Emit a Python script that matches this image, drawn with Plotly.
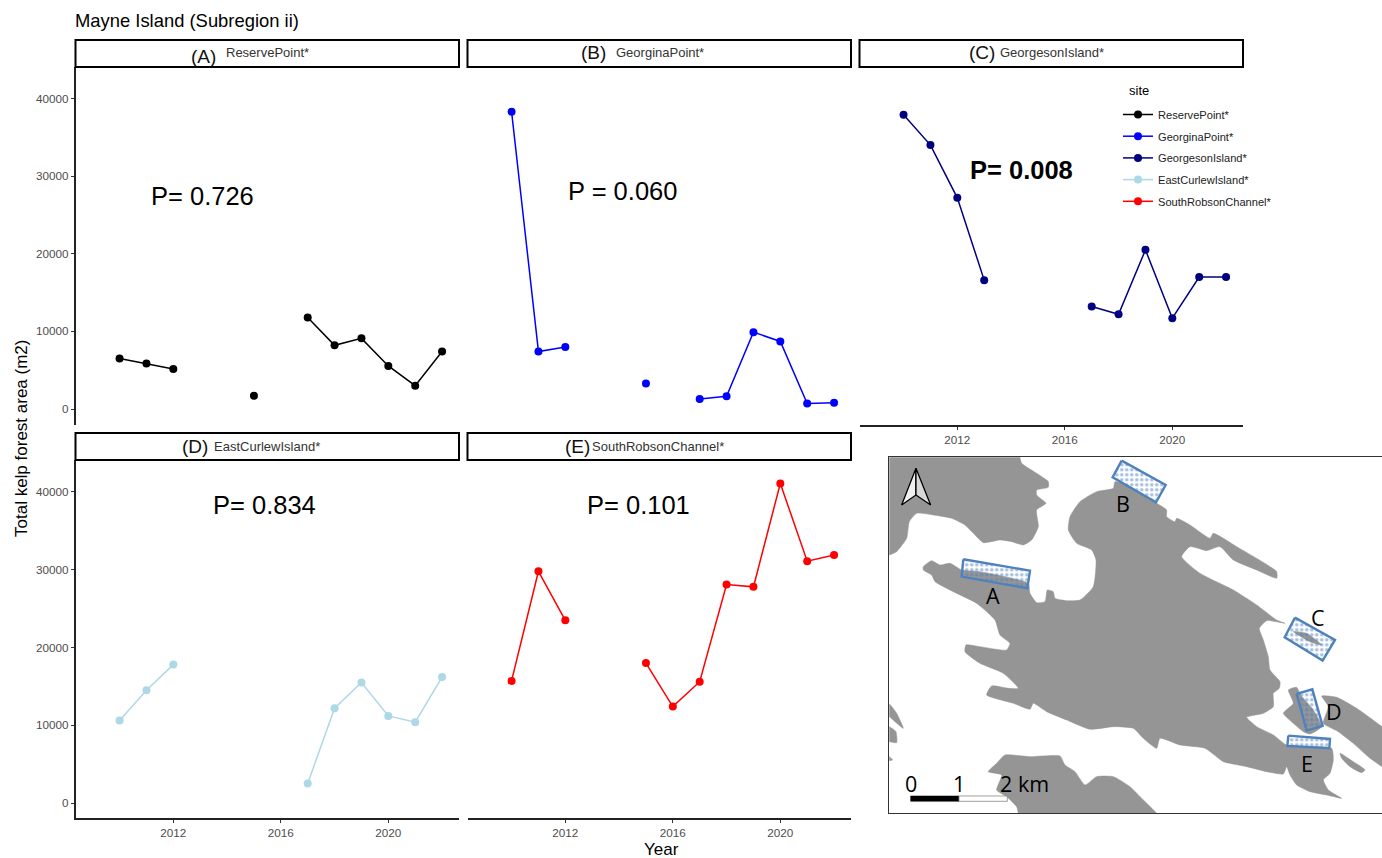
import plotly.graph_objects as go

W, H = 1382, 858
TITLE = "Mayne Island (Subregion ii)"
SITES = ["ReservePoint*", "GeorginaPoint*", "GeorgesonIsland*", "EastCurlewIsland*", "SouthRobsonChannel*"]
LETTERS = ["(A)", "(B)", "(C)", "(D)", "(E)"]
COLORS = ["#000000", "#0000FF", "#000080", "#ADD8E6", "#FF0000"]
YEARS = [2010, 2011, 2012, 2013, 2014, 2015, 2016, 2017, 2018, 2019, 2020, 2021, 2022]
RESERVE = [6500, 5850, 5150, None, None, 1700, None, 11800, 8200, 9100, 5550, 3000, 7400]
GEORGINA = [38300, 7400, 8000, None, None, 3300, None, 1300, 1650, 9900, 8700, 700, 800]
GEORGESON = [37900, 34000, 27200, 16600, None, None, None, 13200, 12200, 20500, 11700, 17000, 17000]
CURLEW = [10600, 14500, 17800, None, None, None, None, 2500, 12200, 15500, 11200, 10400, 16200]
ROBSON = [15700, 29800, 23500, None, None, 18000, 12400, 15600, 28100, 27800, 41100, 31100, 31900]
SERIES = [RESERVE, GEORGINA, GEORGESON, CURLEW, ROBSON]
PVALUES = ["P= 0.726", "P = 0.060", "<b>P= 0.008</b>", "P= 0.834", "P= 0.101"]
XTICKS = [2012, 2016, 2020]
YTICKS = [0, 10000, 20000, 30000, 40000]

# Map outlines
LAND_NW = [(-60,-60),(420,-60),(420,22),(425,40),(470,70),(505,95),(505,112),(470,120),(470,135),(498,160),(470,180),(475,230),(455,270),(430,285),(395,275),(360,270),(310,278),(280,250),(255,225),(215,205),(160,195),(110,190),(88,215),(80,265),(50,305),(28,315),(-60,330)]
LAND_MAIN = [(130,350),(155,332),(180,345),(210,340),(245,360),(300,365),(445,400),(450,430),(470,458),(495,455),(502,420),(520,425),(525,445),(560,452),(600,450),(640,410),(648,330),(635,300),(590,280),(565,240),(570,200),(600,155),(650,125),(700,115),(705,95),(760,115),(830,160),(860,180),(860,200),(885,215),(890,205),(930,225),(990,265),(1000,250),(1070,290),(1190,365),(1190,385),(1130,360),(1060,330),(1020,290),(980,302),(930,290),(905,320),(960,370),(1060,420),(1130,465),(1190,510),(1215,520),(1160,512),(1138,535),(1150,570),(1165,620),(1170,660),(1200,695),(1198,715),(1180,730),(1180,770),(1150,790),(1100,802),(1130,830),(1180,855),(1220,885),(1355,895),(1360,930),(1350,970),(1330,990),(1345,1020),(1385,1045),(1340,1035),(1290,1025),(1250,1005),(1230,975),(1220,950),(1210,972),(1160,965),(1100,950),(1030,935),(975,895),(900,885),(840,865),(830,895),(790,865),(760,835),(700,830),(630,838),(560,810),(500,785),(460,760),(450,778),(400,760),(320,735),(335,708),(385,715),(415,715),(370,670),(300,640),(255,605),(258,585),(300,590),(380,600),(390,580),(360,555),(345,510),(290,460),(220,425),(165,395),(155,375),(130,360)]
LAND_D = [(1225,720),(1250,712),(1262,735),(1300,780),(1325,830),(1290,852),(1270,845),(1240,820),(1210,790),(1240,760)]
LAND_E = [(1325,738),(1370,742),(1430,775),(1506,830),(1600,900),(1600,1010),(1506,950),(1470,925),(1420,880),(1375,845),(1330,820),(1345,770)]
LAND_SLIVER = [(1380,910),(1420,935),(1455,960),(1445,968),(1410,950),(1385,925)]
LAND_S = [(375,915),(450,920),(540,918),(555,945),(585,965),(615,1005),(650,980),(700,980),(750,1010),(790,1050),(830,1090),(870,1160),(420,1160),(415,1090),(410,1070),(380,1040),(350,1020),(365,975),(325,965),(350,940)]
LAND_W1 = [(-30,740),(28,762),(50,790),(70,835),(45,815),(28,800),(-30,790)]
LAND_W2 = [(-30,820),(28,830),(48,845),(50,878),(28,875),(-30,870)]
LAND_W3 = [(-20,910),(28,920),(38,930),(28,932),(-20,940)]
ROCK_C = [(1240,545),(1280,550),(1325,585),(1290,575)]
LANDS = [LAND_NW, LAND_MAIN, LAND_D, LAND_E, LAND_SLIVER, LAND_S, LAND_W1, LAND_W2, LAND_W3, ROCK_C]
BOXES = [
    [(250,328),(450,362),(442,415),(245,380)],
    [(725,32),(857,105),(828,157),(698,82)],
    [(1245,503),(1365,570),(1328,632),(1214,562)],
    [(1250,732),(1297,718),(1328,828),(1280,842)],
    [(1225,857),(1350,867),(1348,895),(1222,888)],
]
MAP_LABELS = [("A",338,436),("B",728,160),("C",1313,502),("D",1362,785),("E",1282,940),("0",92,1000),("1",237,1000),("2 km",435,1000)]
SCALE_BLACK = [(92,1038),(237,1038),(237,1054),(92,1054)]
SCALE_WHITE = [(237,1038),(382,1038),(382,1054),(237,1054)]
ARROW_L = [(108,55),(65,165),(108,135)]
ARROW_R = [(108,55),(152,165),(108,135)]

# Panel geometry in pixels: x0, x1, top (below the strip), bottom
PANELS = [(75.5,459,67,425),(467.5,851,67,425),(859.5,1243,67,425),(75.5,459,460,818),(467.5,851,460,818)]
XRANGE = [2008.36, 2022.63]
YRANGES = [[-2061, 44057]] * 3 + [[-1929, 44115]] * 2
P_POS = [(202,196),(622,191),(1021,170),(264,505),(638,505)]
STRIP_L = [(203,56),(593,53),(982,53),(195,446),(577,447)]
STRIP_T = [(224,53),(614,53),(998,53),(212,447),(590,447)]
MAP_DOM = (889.3,1382,457.3,813.3)
FONT = "Liberation Sans"
GREY = "#4D4D4D"

px = lambda v: v / W
py = lambda v: 1 - v / H

fig = go.Figure()
layout = dict(
    width=W, height=H, autosize=False, margin=dict(l=0, r=0, t=0, b=0),
    paper_bgcolor="white", plot_bgcolor="white",
    font=dict(family=FONT, color="#000000"),
    title=dict(text=TITLE, x=px(75), xanchor="left", y=py(21), yanchor="middle",
               font=dict(size=18.4, family=FONT, color="#000000")),
    legend=dict(x=px(1118), xanchor="left", y=py(100), yanchor="top", bgcolor="rgba(0,0,0,0)",
                tracegroupgap=2.7, font=dict(size=11.1, family=FONT, color="#222222")),
)
shapes, annos = [], []
for i, (name, vals, col, (x0, x1, top, bot)) in enumerate(zip(SITES, SERIES, COLORS, PANELS)):
    n = "" if i == 0 else str(i + 1)
    fig.add_trace(go.Scatter(x=YEARS, y=vals, mode="lines+markers", name=name, xaxis=f"x{n}", yaxis=f"y{n}",
                             legendgroup=name, connectgaps=False, line=dict(color=col, width=1.5),
                             marker=dict(color=col, size=8), showlegend=True))
    show_x = i in (2, 3, 4)
    show_y = i in (0, 3)
    layout[f"xaxis{n}"] = dict(domain=[px(x0), px(x1)], range=XRANGE, anchor=f"y{n}", tickvals=XTICKS,
                               showgrid=False, zeroline=False, showline=show_x, linecolor="#222222", linewidth=1.5,
                               ticks="outside" if show_x else "", ticklen=3, tickwidth=1, tickcolor="#333333",
                               showticklabels=show_x, tickfont=dict(size=11.7, color=GREY, family=FONT))
    layout[f"yaxis{n}"] = dict(domain=[py(bot), py(top)], range=YRANGES[i], anchor=f"x{n}", tickvals=YTICKS,
                               showgrid=False, zeroline=False, showline=show_y, linecolor="#222222", linewidth=1.5,
                               ticks="outside" if show_y else "", ticklen=3, tickwidth=1, tickcolor="#333333",
                               showticklabels=show_y, tickfont=dict(size=11.7, color=GREY, family=FONT),
                               tickformat="d")
    shapes.append(dict(type="rect", xref="paper", yref="paper", x0=px(x0), x1=px(x1), y0=py(top), y1=py(top - 27),
                       line=dict(color="#000000", width=2), fillcolor="white", layer="above"))
    annos.append(dict(text=LETTERS[i], x=px(STRIP_L[i][0]), y=py(STRIP_L[i][1]), xref="paper", yref="paper",
                      showarrow=False, font=dict(size=19, family=FONT, color="#111111"), xanchor="center", yanchor="middle"))
    annos.append(dict(text=name, x=px(STRIP_T[i][0]), y=py(STRIP_T[i][1]), xref="paper", yref="paper",
                      showarrow=False, font=dict(size=13, family=FONT, color="#333333"), xanchor="left", yanchor="middle"))
    annos.append(dict(text=PVALUES[i], x=px(P_POS[i][0]), y=py(P_POS[i][1]), xref="paper", yref="paper",
                      showarrow=False, font=dict(size=25.5, family=FONT, color="#000000"), xanchor="center", yanchor="middle"))

annos.append(dict(text="site", x=px(1127), y=py(90), xref="paper", yref="paper", showarrow=False,
                  font=dict(size=13, family=FONT, color="#000000"), xanchor="left", yanchor="middle"))
annos.append(dict(text="Total kelp forest area (m2)", x=px(21), y=py(439), xref="paper", yref="paper", textangle=-90,
                  showarrow=False, font=dict(size=17, family=FONT, color="#000000"), xanchor="center", yanchor="middle"))
annos.append(dict(text="Year", x=px(661), y=py(849), xref="paper", yref="paper",
                  showarrow=False, font=dict(size=17, family=FONT, color="#000000"), xanchor="center", yanchor="middle"))

# Map panel
def poly(pts, **kw):
    xs = [p[0] for p in pts] + [pts[0][0]]
    ys = [p[1] for p in pts] + [pts[0][1]]
    fig.add_trace(go.Scatter(x=xs, y=ys, xaxis="x6", yaxis="y6", mode="lines", fill="toself", showlegend=False,
                             hoverinfo="skip", **kw))

for land in LANDS:
    poly(land, fillcolor="#959595", line=dict(color="#959595", width=0.5, shape="spline", smoothing=0.5))
for box in BOXES:
    poly(box, fillcolor="rgba(0,0,0,0)", line=dict(color="#4F81BD", width=2.4),
         fillpattern=dict(shape=".", fgcolor="#4F81BD", bgcolor="rgba(255,255,255,0)", size=5, solidity=0.4))
poly(SCALE_BLACK, fillcolor="#000000", line=dict(color="#000000", width=0.5))
poly(SCALE_WHITE, fillcolor="#FFFFFF", line=dict(color="#777777", width=0.7))
poly(ARROW_L, fillcolor="#F0F0F0", line=dict(color="#000000", width=1.3))
poly(ARROW_R, fillcolor="#D8D8D8", line=dict(color="#000000", width=1.3))
for text, x, y in MAP_LABELS:
    annos.append(dict(text=text, x=x, y=y, xref="x6", yref="y6", showarrow=False,
                      font=dict(size=21.5, family="Open Sans", color="#000000"), xanchor="center", yanchor="middle"))
mx0, mx1, my0, my1 = MAP_DOM
layout["xaxis6"] = dict(domain=[px(mx0), px(mx1)], range=[28, 1506], anchor="y6", showgrid=False, zeroline=False,
                        showticklabels=False, ticks="", showline=True, mirror=True, linecolor="#333333", linewidth=1)
layout["yaxis6"] = dict(domain=[py(my1), py(my0)], range=[1090, 22], anchor="x6", showgrid=False, zeroline=False,
                        showticklabels=False, ticks="", showline=True, linecolor="#333333", linewidth=1)
layout["shapes"] = shapes
layout["annotations"] = annos
fig.update_layout(**layout)
fig.write_html("out.html", config=dict(displayModeBar=False),
               post_script="document.body.style.margin='0';document.body.style.overflow='hidden';")
